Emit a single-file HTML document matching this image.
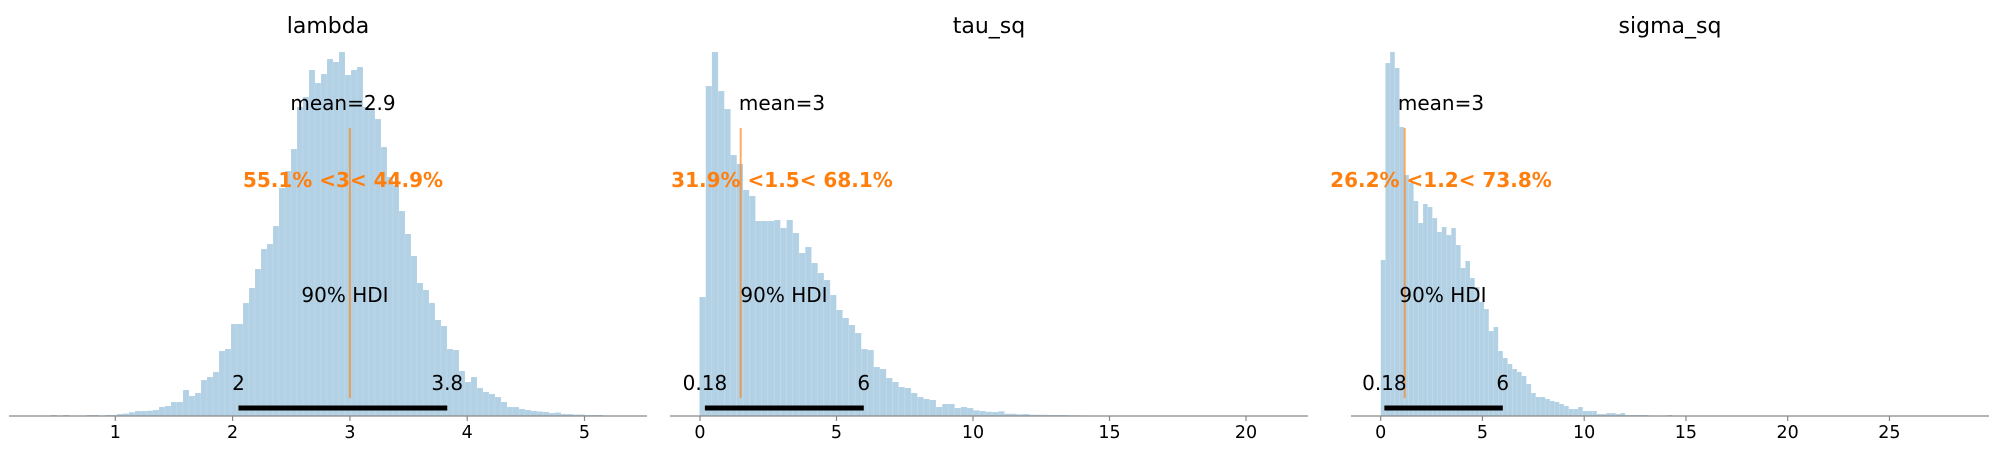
<!DOCTYPE html>
<html><head><meta charset="utf-8"><style>
body{margin:0;background:#fff}
svg{display:block;font-family:"DejaVu Sans","Liberation Sans",sans-serif}
</style></head><body>
<svg id="chart" width="1998" height="453" viewBox="0 0 1998 453" xmlns="http://www.w3.org/2000/svg"></svg>
<script>
// ---- data ----
const titles = ["lambda","tau_sq","sigma_sq"];
const lambdaBinStart = 0.3496;
const lambdaBinWidth = 0.05115;
const lambdaHeights = [0,0,1,0,1,0,0,0,1,1,0,1,1,
 2,2.5,3.7,5,5,5.3,6,9,10,14,14,26,20,23,36,39,44,65,67,92,92,113,128,147,167,172,190,228,245,267,309,319,346,333,342,357,354,364,341,346,349,309,308,297,269,239,231,205,182,160,133,126,113,96,90,67,66,45,34,39,28,24,22,19,14,9,9,
 7,6,5,4.5,4,3,3.5,2,2,1.5,1.5,1,1,1,0.5,0.5,0.5,0,0,0.5];
const tauBinStart = -0.02;
const tauBinWidth = 0.228;
const tauHeights = [119,330,364,325,307,261,252,226,220,195,195,195,196,188,196,183,163,169,153,143,136,121,106,98,91,83,
 67,66,49,47,38,34,29,28,23,19,17,16,9,12,12,8,9,8,5.7,5,4.3,4,4.7,2.3,2.3,1.7,2,1.3,1.3,
 1.2,1,1,1,0.8,0.8,0.6,0.5,0.5,0.4,0.3,0.3,0.3,0.2,0.2,0.2,0.2,0.1,0.1];
const sigmaBinStart = 0.0;
const sigmaBinWidth = 0.231;
const sigmaHeights = [156,353,364,348,289,241,233,215,193,212,209,198,184,189,181,188,171,148,155,138,129,114,107,85,89,
 65,58,52,47,44,40,32,23,19,19,17,15,
 14,12,10,7,7,9,5,5,5,2,2,3,3,2,3,1,1,1,1,1,0.5,0.5,0.5,0.5,1,0.5,0.5,0.3,0.3];
const means = ["2.9","3","3"];
const refValues = [3.0, 1.49, 1.18];
const refLabels = ["55.1% <3< 44.9%","31.9% <1.5< 68.1%","26.2% <1.2< 73.8%"];
const hdiLow = [2.05, 0.18, 0.18];
const hdiHigh = [3.83, 6.0, 6.0];
const hdiLowLabels = ["2","0.18","0.18"];
const hdiHighLabels = ["3.8","6","6"];
const lambdaTicks = [1,2,3,4,5];
const tauTicks = [0,5,10,15,20];
const sigmaTicks = [0,5,10,15,20,25];

// ---- layout ----
const NS="http://www.w3.org/2000/svg";
const svg=document.getElementById('chart');
const baseY=416, topY=52, yMax=364;
const panels=[
 {x0:9,x1:647,px0:-2,ppu:117.3,start:lambdaBinStart,w:lambdaBinWidth,h:lambdaHeights,ticks:lambdaTicks,cx:343},
 {x0:670,x1:1308,px0:700,ppu:27.3,start:tauBinStart,w:tauBinWidth,h:tauHeights,ticks:tauTicks,cx:782},
 {x0:1351,x1:1989,px0:1380.7,ppu:20.35,start:sigmaBinStart,w:sigmaBinWidth,h:sigmaHeights,ticks:sigmaTicks,cx:1441}
];
function el(tag,attrs,parent){const e=document.createElementNS(NS,tag);for(const k in attrs)e.setAttribute(k,attrs[k]);(parent||svg).appendChild(e);return e;}
function yScale(v){return baseY-v*(baseY-topY)/yMax;}

panels.forEach((p,i)=>{
 const xs=v=>p.px0+v*p.ppu;
 const g=el('g',{});
 
 
 const t=el('text',{x:(p.x0+p.x1)/2,y:33,'text-anchor':'middle','font-size':22,fill:'#000'},g);
 t.textContent=titles[i];
 
 
 p.h.forEach((hv,k)=>{
  if(hv<=0)return;
  const a=xs(p.start+k*p.w), b=xs(p.start+(k+1)*p.w);
  const r=el('rect',{x:a,y:yScale(hv),width:b-a,height:baseY-yScale(hv),fill:'#1f77b4','fill-opacity':0.34,stroke:'#ffffff','stroke-opacity':0.25,'stroke-width':0.4},g);
  
  
 });
 const ax=el('line',{x1:p.x0,x2:p.x1,y1:baseY,y2:baseY,stroke:'#888','stroke-width':1.3},g);
 
 
 p.ticks.forEach(tv=>{
  const x=xs(tv);
  el('line',{x1:x,x2:x,y1:baseY,y2:baseY+5,stroke:'#888','stroke-width':1.2},g);
  const tl=el('text',{x:x,y:438,'text-anchor':'middle','font-size':17.5,fill:'#000'},g);
  tl.textContent=tv;
  
  
 });
 const ml=el('line',{x1:xs(refValues[i]),x2:xs(refValues[i]),y1:128,y2:398,stroke:'#ff7f0e','stroke-opacity':0.65,'stroke-width':2},g);
 
 
 const mt=el('text',{x:p.cx,y:110,'text-anchor':'middle','font-size':20,fill:'#000'},g);
 mt.textContent='mean='+means[i];
 
 
 const rt=el('text',{x:p.cx,y:187,'text-anchor':'middle','font-size':20,'font-weight':'bold',fill:'#ff7f0e'},g);
 rt.textContent=refLabels[i];
 
 
 const ht=el('text',{x:p.cx+2,y:302,'text-anchor':'middle','font-size':20,fill:'#000'},g);
 ht.textContent='90% HDI';
 
 
 const hb=el('line',{x1:xs(hdiLow[i]),x2:xs(hdiHigh[i]),y1:408,y2:408,stroke:'#000','stroke-width':5},g);
 
 
 const l1=el('text',{x:xs(hdiLow[i]),y:390,'text-anchor':'middle','font-size':20,fill:'#000'},g);
 l1.textContent=hdiLowLabels[i];
 
 
 const l2=el('text',{x:xs(hdiHigh[i]),y:390,'text-anchor':'middle','font-size':20,fill:'#000'},g);
 l2.textContent=hdiHighLabels[i];
 
 
});
</script>
</body></html>
